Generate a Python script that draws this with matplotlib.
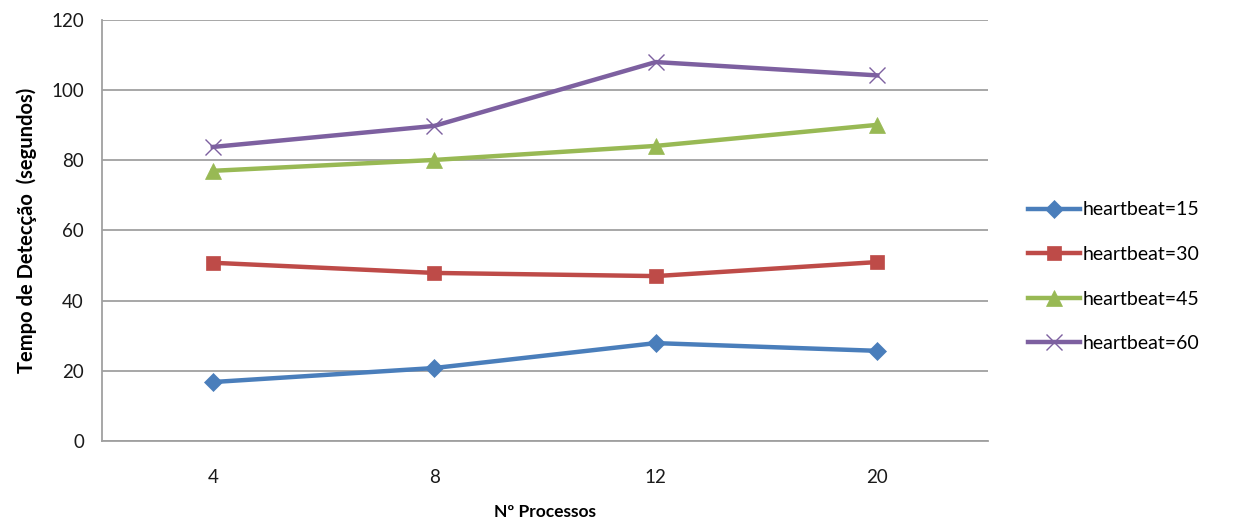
import numpy as np
import matplotlib
matplotlib.use("Agg")
import matplotlib.pyplot as plt

plt.rcParams['font.family'] = ['Lato', 'DejaVu Sans']

processos = ['4', '8', '12', '20']
hb15 = [16.8, 20.8, 27.9, 25.7]
hb30 = [50.8, 47.9, 47.0, 51.0]
hb45 = [77.0, 80.1, 84.1, 90.1]
hb60 = [83.8, 89.8, 108.0, 104.2]

series = [
    ('heartbeat=15', hb15, '#4a7ebb', 'D', 9),
    ('heartbeat=30', hb30, '#be4b48', 's', 10),
    ('heartbeat=45', hb45, '#98b954', '^', 11),
    ('heartbeat=60', hb60, '#7d60a0', 'x', 11),
]

fig = plt.figure(figsize=(12.35, 5.25), dpi=100)
ax = fig.add_axes([0.0826, 0.16, 0.7174, 0.802])

x = np.arange(len(processos))
for label, vals, color, mk, ms in series:
    ax.plot(x, vals, color=color, lw=3.2, marker=mk, markersize=ms,
            markeredgewidth=1.0 if mk == 'x' else 0.5,
            markeredgecolor=color, label=label)

ax.set_xlim(-0.5, 3.5)
ax.set_ylim(0, 120)
ax.set_yticks(np.arange(0, 121, 20))
ax.set_xticks(x)
ax.set_xticklabels(processos)
ax.yaxis.grid(True, color='#a0a0a0', lw=1.3)
ax.set_axisbelow(True)
for s in ['top', 'right']:
    ax.spines[s].set_visible(False)
for s in ['left', 'bottom']:
    ax.spines[s].set_color('#a0a0a0')
    ax.spines[s].set_linewidth(1.3)
ax.tick_params(length=0, labelsize=13.5, pad=13, colors='#1a1a1a')
ax.tick_params(axis='x', pad=20)

ax.set_xlabel('Nº Processos', fontsize=12.5, fontweight='bold', labelpad=13)
ax.set_ylabel('Tempo de Detecção  (segundos)', fontsize=14.5, fontweight='bold', labelpad=10)

ax.legend(loc='center left', bbox_to_anchor=(1.025, 0.39), frameon=False,
          fontsize=14, handlelength=2.7, handletextpad=0.15, labelspacing=1.42)

fig.savefig('out.png', dpi=100)
